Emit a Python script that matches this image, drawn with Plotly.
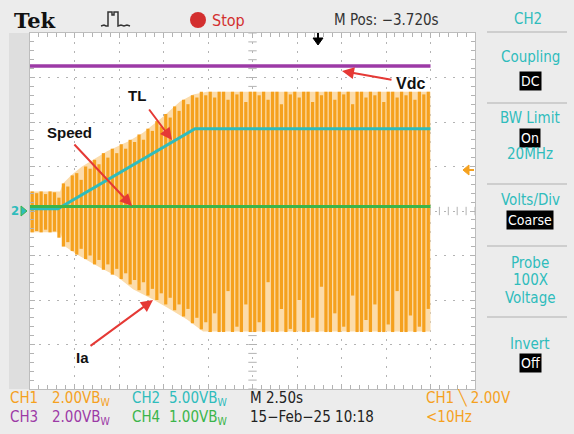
import plotly.graph_objects as go

W, H = 574, 434

# ---------------- data (x: seconds, 2.5 s/div ; y: screen divisions) ----------------
ia_dt = 0.25  # one drawn Ia stroke every 0.25 s
ia_hi = [0.44, 0.40, 0.44, 0.38, 0.44, 0.42, 0.30, 0.62, 0.55, 0.80,
         0.85, 0.70, 1.00, 0.95, 1.15, 1.05, 1.30, 1.20, 1.40, 1.30,
         1.50, 1.40, 1.60, 1.55, 1.72, 1.60, 1.85, 1.80, 2.02, 1.90,
         2.18, 2.10, 2.35, 2.25, 2.50, 2.40, 2.60, 2.55, 2.68, 2.60,
         2.68, 2.55, 2.68, 2.68, 2.50, 2.68, 2.62, 2.68, 2.45, 2.68,
         2.68, 2.60, 2.68, 2.50, 2.68, 2.68, 2.40, 2.68, 2.62, 2.68,
         2.55, 2.68, 2.68, 2.45, 2.68, 2.60, 2.68, 2.68, 2.50, 2.68,
         2.62, 2.68, 2.40, 2.68, 2.68, 2.55, 2.68, 2.60, 2.68, 2.45,
         2.68, 2.68, 2.55, 2.68, 2.60, 2.68, 2.50, 2.68, 2.62, 2.68]
ia_lo = [-0.48, -0.45, -0.48, -0.42, -0.48, -0.46, -0.60, -0.80, -0.70, -0.90,
         -0.98, -0.85, -1.08, -1.00, -1.20, -1.10, -1.32, -1.20, -1.43, -1.30,
         -1.53, -1.40, -1.65, -1.55, -1.78, -1.60, -1.90, -1.75, -2.00, -1.85,
         -2.10, -1.95, -2.23, -2.10, -2.37, -2.20, -2.52, -2.40, -2.66, -2.50,
         -2.72, -2.30, -2.72, -2.72, -1.80, -2.72, -2.60, -2.72, -2.10, -2.72,
         -2.72, -2.50, -2.72, -1.60, -2.72, -2.72, -2.20, -2.72, -2.65, -2.72,
         -2.00, -2.72, -2.72, -2.40, -2.72, -1.70, -2.72, -2.72, -2.30, -2.72,
         -2.60, -2.72, -1.90, -2.72, -2.72, -2.45, -2.72, -2.10, -2.72, -2.72,
         -2.55, -2.72, -1.80, -2.72, -2.72, -2.35, -2.72, -2.60, -2.72, -2.20]
ia_t = [ia_dt * (i + 0.5) for i in range(len(ia_hi))]

env_hi_t = [0.0, 1.69, 1.85, 2.36, 2.92, 4.33, 5.51, 6.35, 7.47, 8.43, 9.16, 9.94, 22.5]
env_hi_v = [0.44, 0.44, 0.62, 0.82, 1.00, 1.34, 1.56, 1.76, 2.12, 2.46, 2.62, 2.68, 2.68]
env_lo_t = [0.0, 1.69, 1.97, 2.64, 3.93, 4.89, 5.79, 6.91, 7.70, 8.82, 9.72, 22.5]
env_lo_v = [-0.48, -0.48, -0.80, -0.98, -1.27, -1.47, -1.76, -1.99, -2.17, -2.44, -2.71, -2.71]

tl_t = [0.0, 1.57, 9.27, 22.5]      # CH2 load torque
tl_v = [0.05, 0.05, 1.85, 1.85]
sp_t = [0.0, 22.5]                  # CH4 speed
sp_v = [0.10, 0.10]
vdc_t = [0.0, 22.5]                 # CH3 dc-link voltage
vdc_v = [3.26, 3.26]

# ---------------- styling ----------------
ORANGE = "#f5a11e"
PALE = "#fcdcaa"
CYAN = "#2fbcbc"
GREEN = "#3bb54a"
PURPLE = "#9c3aa6"
RED = "#e53935"
GRID = "#b3b3b3"
NARROW = "Liberation Sans Narrow, DejaVu Sans Condensed, Roboto Condensed, Arial Narrow, sans-serif"


def px(x):
    return x / W


def py(y):
    return 1 - y / H


fig = go.Figure()

# graticule centre-line ticks
fig.add_trace(go.Scatter(x=[0.5 * k for k in range(51)], y=[0] * 51, mode="markers",
                         marker=dict(symbol="line-ns", size=6, line=dict(width=1, color=GRID)),
                         hoverinfo="skip"))
fig.add_trace(go.Scatter(x=[12.5] * 41, y=[-4 + 0.2 * k for k in range(41)], mode="markers",
                         marker=dict(symbol="line-ew", size=6, line=dict(width=1, color=GRID)),
                         hoverinfo="skip"))

# Ia envelope (pale) and vertical strokes
fig.add_trace(go.Scatter(x=env_hi_t + env_lo_t[::-1], y=env_hi_v + env_lo_v[::-1],
                         fill="toself", fillcolor=PALE, mode="lines", line=dict(width=0),
                         hoverinfo="skip"))
sx, sy = [], []
for t, h, l in zip(ia_t, ia_hi, ia_lo):
    sx += [t, t, None]
    sy += [l, h, None]
fig.add_trace(go.Scatter(x=sx, y=sy, mode="lines", line=dict(color=ORANGE, width=3.2),
                         connectgaps=False, hoverinfo="skip"))

fig.add_trace(go.Scatter(x=tl_t, y=tl_v, mode="lines", line=dict(color=CYAN, width=3)))
fig.add_trace(go.Scatter(x=sp_t, y=sp_v, mode="lines", line=dict(color=GREEN, width=3)))
fig.add_trace(go.Scatter(x=vdc_t, y=vdc_v, mode="lines", line=dict(color=PURPLE, width=3.5)))

axis_common = dict(showgrid=True, gridcolor=GRID, griddash="2px,7px", gridwidth=1,
                   zeroline=False, showticklabels=False, ticks="inside", ticklen=5,
                   tickcolor=GRID, showline=True, linecolor="#bdbdbd", linewidth=1,
                   mirror="ticks", fixedrange=True)
fig.update_layout(
    width=W, height=H, margin=dict(l=0, r=0, t=0, b=0),
    paper_bgcolor="#ececec", plot_bgcolor="white", showlegend=False,
    xaxis=dict(range=[0, 25], domain=[px(30), px(475)], dtick=2.5,
               minor=dict(dtick=0.5, ticks="inside", ticklen=4, tickcolor=GRID, showgrid=False),
               **axis_common),
    yaxis=dict(range=[-4, 4], domain=[py(389), py(33)], dtick=1,
               minor=dict(dtick=0.2, ticks="inside", ticklen=4, tickcolor=GRID, showgrid=False),
               **axis_common),
)

shapes = []
# left gray band
shapes.append(dict(type="rect", xref="paper", yref="paper", x0=px(9), x1=px(29), y0=py(389), y1=py(33),
                   fillcolor="#dedede", line=dict(width=0), layer="below"))
# right panel separators
for yy in [32, 103, 184, 246, 317]:
    shapes.append(dict(type="line", xref="paper", yref="paper", x0=px(487), x1=px(567), y0=py(yy), y1=py(yy),
                       line=dict(color="#c4c4c4", width=1.5)))
# stop indicator
shapes.append(dict(type="circle", xref="paper", yref="paper", x0=px(190), x1=px(206), y0=py(28), y1=py(12),
                   fillcolor="#d32f2f", line=dict(width=0)))


def path(points, close=False):
    s = "M " + " L ".join(f"{px(a):.5f},{py(b):.5f}" for a, b in points)
    return s + (" Z" if close else "")


# trigger-type icon
shapes.append(dict(type="path", xref="paper", yref="paper",
                   path=path([(101, 26), (104, 25), (106, 26), (108, 26), (108, 12), (112, 12), (112, 15),
                              (114, 15), (114, 12), (118, 12), (118, 26), (121, 25), (124, 26), (127, 25), (130, 26)]),
                   line=dict(color="#333", width=1.5)))
# horizontal position marker (top)
shapes.append(dict(type="path", xref="paper", yref="paper",
                   path=path([(313, 38), (323, 38), (318, 45)], close=True),
                   fillcolor="black", line=dict(color="black", width=1)))
shapes.append(dict(type="line", xref="paper", yref="paper", x0=px(318), x1=px(318), y0=py(33), y1=py(39),
                   line=dict(color="black", width=2)))
# trigger level marker (right)
shapes.append(dict(type="path", xref="paper", yref="paper",
                   path=path([(463, 170), (469, 165), (469, 175)], close=True),
                   fillcolor=ORANGE, line=dict(color=ORANGE, width=1)))
shapes.append(dict(type="line", xref="paper", yref="paper", x0=px(467), x1=px(474), y0=py(170), y1=py(170),
                   line=dict(color=ORANGE, width=2)))
# ground markers (left)
shapes.append(dict(type="path", xref="paper", yref="paper",
                   path=path([(21, 206), (27, 211), (21, 216)], close=True),
                   fillcolor=CYAN, line=dict(color=GREEN, width=1)))
fig.update_layout(shapes=shapes)

ann = []


def text(x, y, s, color, size, family=NARROW, xanchor="center", bold=False, bg=None):
    d = dict(x=px(x), y=py(y), xref="paper", yref="paper", text=(f"<b>{s}</b>" if bold else s),
             showarrow=False, xanchor=xanchor, yanchor="middle",
             font=dict(color=color, size=size, family=family))
    if bg:
        d.update(bgcolor=bg, borderpad=1)
    ann.append(d)


def arrow(hx, hy, tx, ty):
    ann.append(dict(x=px(hx), y=py(hy), xref="paper", yref="paper", text="", showarrow=True,
                    ax=tx - hx, ay=ty - hy, arrowhead=2, arrowsize=1.2, arrowwidth=2, arrowcolor=RED))


# header
text(12, 20, "Tek", "#111", 21, family="DejaVu Serif, Liberation Serif, serif", xanchor="left", bold=True)
text(210, 20, "Stop", "#d32f2f", 16, xanchor="left")
text(386, 20, "M Pos: −3.720s", "#333", 15)
text(528, 19, "CH2", CYAN, 15)

# right menu
text(530, 57, "Coupling", CYAN, 15)
text(530, 81, "DC", "white", 14, bg="black")
text(530, 118, "BW Limit", CYAN, 15)
text(530, 138, "On", "white", 14, bg="black")
text(530, 154, "20MHz", CYAN, 15)
text(530, 200, "Volts/Div", CYAN, 15)
text(530, 220, "Coarse", "white", 14, bg="black")
text(530, 263, "Probe", CYAN, 15)
text(530, 280, "100X", CYAN, 15)
text(530, 298, "Voltage", CYAN, 15)
text(530, 344, "Invert", CYAN, 15)
text(530, 363, "Off", "white", 14, bg="black")

# footer
bw = "B<sub>W</sub>"
text(8, 398, "CH1", ORANGE, 15, xanchor="left")
text(50, 398, "2.00V" + bw, ORANGE, 15, xanchor="left")
text(130, 398, "CH2", CYAN, 15, xanchor="left")
text(167, 398, "5.00V" + bw, CYAN, 15, xanchor="left")
text(248, 398, "M 2.50s", "#222", 15, xanchor="left")
text(424, 398, "CH1 ╲ 2.00V", ORANGE, 15, xanchor="left")
text(8, 417, "CH3", PURPLE, 15, xanchor="left")
text(50, 417, "2.00V" + bw, PURPLE, 15, xanchor="left")
text(130, 417, "CH4", GREEN, 15, xanchor="left")
text(167, 417, "1.00V" + bw, GREEN, 15, xanchor="left")
text(248, 417, "15−Feb−25 10:18", "#222", 15, xanchor="left")
text(424, 417, "&lt;10Hz", ORANGE, 15, xanchor="left")

# left channel marker
text(15, 211, "2", CYAN, 13, bold=True)

# labels and arrows
BOLD = "Liberation Sans, Arial, sans-serif"
text(410, 83, "Vdc", "#111", 16, family=BOLD, bold=True)
text(137, 95, "TL", "#111", 15, family=BOLD, bold=True)
text(69, 133, "Speed", "#111", 15, family=BOLD, bold=True)
text(82, 357, "Ia", "#111", 15, family=BOLD, bold=True)
arrow(342, 71, 393, 80)
arrow(172, 140, 148, 108)
arrow(132, 206, 73, 143)
arrow(153, 300, 89, 347)

fig.update_layout(annotations=ann)
fig.write_html("out.html")
